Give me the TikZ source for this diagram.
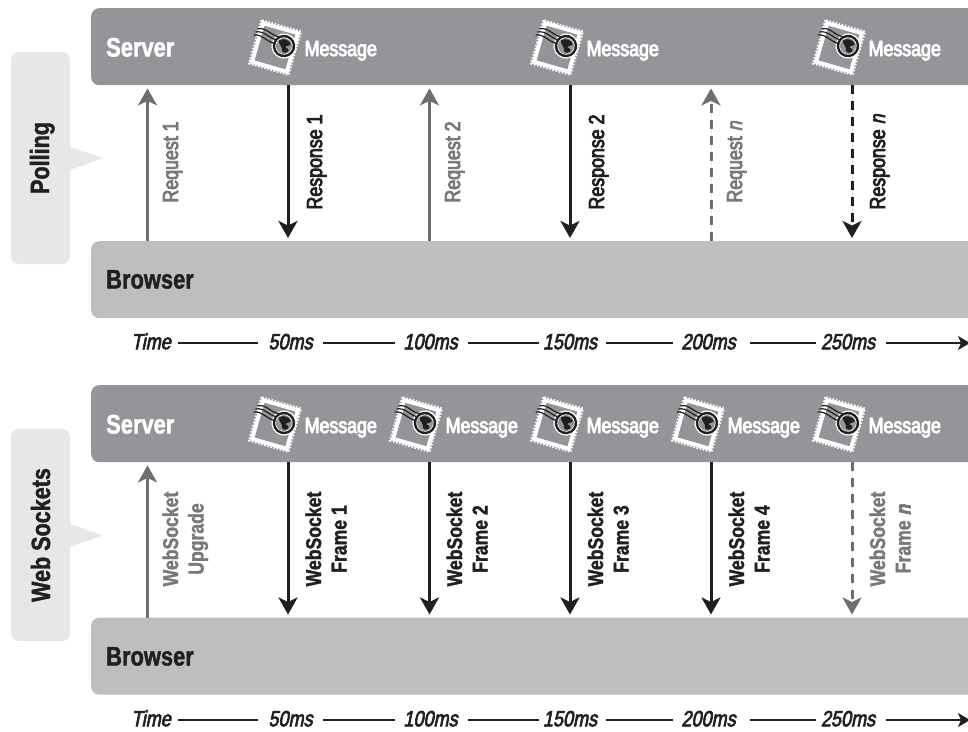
\documentclass[tikz,border=0pt]{standalone}
\usepackage{fontspec}
\setmainfont[FakeStretch=0.82,BoldFeatures={FakeStretch=0.82,FakeBold=1.5}]{Liberation Sans}
\newfontfamily\medfont[FakeStretch=0.82,FakeBold=4]{Liberation Sans}
\newfontfamily\medit[FakeStretch=0.82,FakeBold=3,FakeSlant=0.2]{Liberation Sans}
\usetikzlibrary{arrows.meta}
\definecolor{srv}{HTML}{939598}
\definecolor{brw}{HTML}{BCBEC0}
\definecolor{cal}{HTML}{E6E7E8}
\definecolor{arrgray}{HTML}{6D6E71}
\definecolor{txtgray}{HTML}{77787B}
\definecolor{ink}{HTML}{231F20}
\tikzset{
  x=1pt,y=-1pt,
  bar/.style={anchor=north west,minimum width=905pt,minimum height=77pt,rounded corners=8pt,inner sep=0pt},
  barlabel/.style={anchor=base west,inner sep=0pt,font=\fontsize{26.7}{30}\selectfont\bfseries},
  msgtext/.style={anchor=base west,inner sep=0pt,text=white,font=\fontsize{21.7}{25}\selectfont\medfont},
  sidebox/.style={fill=cal,minimum width=59pt,minimum height=212pt,rounded corners=8pt,inner sep=0pt},
  sidelabel/.style={rotate=90,anchor=base,inner sep=0pt,text=ink,font=\fontsize{26.3}{30}\selectfont\bfseries},
  linklabel/.style={rotate=90,anchor=base,inner sep=0pt,font=\fontsize{21.7}{25}\selectfont\medfont},
  framelabel/.style={rotate=90,anchor=center,inner sep=0pt,align=center,font=\fontsize{21.5}{25.5}\selectfont\bfseries},
  timelabel/.style={inner sep=0pt,text=ink,text height=12.5pt,text depth=0pt,font=\fontsize{22}{25}\selectfont\medit},
  timeline/.style={draw=ink,line width=1.5pt},
  linkbase/.style={line width=3pt,-{Stealth[length=17pt,width=19pt,inset=4.5pt]},shorten >=3pt},
  up/.style={linkbase,draw=arrgray,fill=arrgray},
  down/.style={linkbase,draw=ink,fill=ink},
  downgray/.style={linkbase,draw=arrgray,fill=arrgray},
  dashedlink/.style={line width=3pt,dash pattern=on 9pt off 7pt},
  stamp/.pic={
    \fill[white] (-20,-22) rectangle (20,22);
    \draw[white,line width=2.2pt,dash pattern=on 1.6pt off 1.6pt] (-20.5,-22.5) rectangle (20.5,22.5);
    \fill[srv] (-16,-18) rectangle (16,18);
    \fill[white] (8.2,-3.9) circle (12.6);
    \draw[ink,line width=1.2pt] (-22,-13) .. controls (-14,-18) and (-6,-9) .. (2,-12);
    \draw[ink,line width=1.2pt] (-23,-9.5) .. controls (-15,-14) and (-7,-6) .. (1,-8);
    \draw[ink,line width=1.2pt] (-24,-6) .. controls (-16,-10) and (-8,-2) .. (0,-4);
    \fill[ink] (8.2,-3.9) circle (11.2);
    \fill[white] (8.2,-3.9) circle (8.7);
    \fill[srv] (8.2,-3.9) circle (8);
    \fill[ink] (2,-8) .. controls (6,-12) and (11,-11) .. (14,-8) .. controls (15,-5) and (10,-6) .. (10,-3)
       .. controls (13,-3) and (15,-1) .. (13,1) .. controls (10,4) and (7,2) .. (7,-1)
       .. controls (6,-4) and (2,-4) .. (2,-8) -- cycle;
  }
}
\newcommand{\stampmsg}[3]{%
  \pic[rotate=-16] at (#2-13,#3-0.5) {stamp};
  \node[msgtext] (#1) at (#2+16.5,#3+8) {Message};
}
\newcommand{\timerow}[2]{%
  \node[timelabel] (#1t) at (151,#2) {Time};
  \node[timelabel] (#1a) at (290.5,#2) {50ms};
  \node[timelabel] (#1b) at (430.5,#2) {100ms};
  \node[timelabel] (#1c) at (570,#2) {150ms};
  \node[timelabel] (#1d) at (708.5,#2) {200ms};
  \node[timelabel] (#1e) at (848,#2) {250ms};
  \coordinate (#1end) at (970,#2);
  \draw[timeline,shorten <=7pt,shorten >=10pt] (#1t) -- (#1a);
  \draw[timeline,shorten <=10pt,shorten >=8pt] (#1a) -- (#1b);
  \draw[timeline,shorten <=10pt,shorten >=4pt] (#1b) -- (#1c);
  \draw[timeline,shorten <=9pt,shorten >=8pt] (#1c) -- (#1d);
  \draw[timeline,shorten <=14pt,shorten >=5pt] (#1d) -- (#1e);
  \draw[timeline,shorten <=11pt,-{Stealth[length=12pt,width=14pt,inset=3pt]},fill=ink] (#1e) -- (#1end);
}
\newcommand{\linelbl}[1]{\rule[-5pt]{0pt}{5pt}#1}
\begin{document}
\begin{tikzpicture}
\useasboundingbox (0,0) rectangle (968,731);
% x positions of the links
\coordinate (xa) at (147.5,0);
\coordinate (xb) at (288,0);
\coordinate (xc) at (429.5,0);
\coordinate (xd) at (570,0);
\coordinate (xe) at (711,0);
\coordinate (xf) at (852,0);

% ---------- Polling ----------
\node[bar,fill=srv] (s1) at (91,8) {};
\node[bar,fill=brw] (b1) at (91,241) {};
\node[barlabel,text=white] (s1l) at (106,56.5) {Server};
\node[barlabel,text=ink] (b1l) at (106,288.5) {Browser};
\node[sidebox] (p) at (40.5,158) {};
\fill[cal] (p.east |- 0,147) -- (103,158) -- (p.east |- 0,170) -- cycle;
\node[sidelabel] (pl) at (49,158) {Polling};

\stampmsg{m1}{288}{48}
\stampmsg{m2}{570}{48}
\stampmsg{m3}{852}{48}

\draw[up] (b1.north -| xa) -- (s1.south -| xa);
\draw[down] (s1.south -| xb) -- (b1.north -| xb);
\draw[up] (b1.north -| xc) -- (s1.south -| xc);
\draw[down] (s1.south -| xd) -- (b1.north -| xd);
\draw[up,dashedlink] (b1.north -| xe) -- (s1.south -| xe);
\draw[down,dashedlink] (s1.south -| xf) -- (b1.north -| xf);

\node[linklabel,text=txtgray] (l1) at (178,162) {Request 1};
\node[linklabel,text=ink] (l2) at (322,162) {Response 1};
\node[linklabel,text=txtgray] (l3) at (460,162) {Request 2};
\node[linklabel,text=ink] (l4) at (604,162) {Response 2};
\node[linklabel,text=txtgray] (l5) at (742,162) {Request {\medit n}};
\node[linklabel,text=ink] (l6) at (885,162) {Response {\medit n}};

\timerow{ta}{343}

% ---------- Web Sockets ----------
\node[bar,fill=srv] (s2) at (91,385) {};
\node[bar,fill=brw] (b2) at (91,617.5) {};
\node[barlabel,text=white] (s2l) at (106,433.5) {Server};
\node[barlabel,text=ink] (b2l) at (106,665.5) {Browser};
\node[sidebox] (w) at (40.5,535) {};
\fill[cal] (w.east |- 0,524) -- (103,535.5) -- (w.east |- 0,547) -- cycle;
\node[sidelabel] (wl) at (50,535) {Web Sockets};

\stampmsg{n1}{288}{425}
\stampmsg{n2}{429}{425}
\stampmsg{n3}{570}{425}
\stampmsg{n4}{711}{425}
\stampmsg{n5}{852}{425}

\draw[up] (b2.north -| xa) -- (s2.south -| xa);
\draw[down] (s2.south -| xb) -- (b2.north -| xb);
\draw[down] (s2.south -| xc) -- (b2.north -| xc);
\draw[down] (s2.south -| xd) -- (b2.north -| xd);
\draw[down] (s2.south -| xe) -- (b2.north -| xe);
\draw[downgray,dashedlink] (s2.south -| xf) -- (b2.north -| xf);

\node[framelabel,text=txtgray] (f0) at (185.5,539) {\rule{0pt}{15.5pt}WebSocket\\\linelbl{Upgrade}};
\node[framelabel,text=ink] (f1) at (328.5,539) {\rule{0pt}{15.5pt}WebSocket\\\linelbl{Frame 1}};
\node[framelabel,text=ink] (f2) at (469.5,539) {\rule{0pt}{15.5pt}WebSocket\\\linelbl{Frame 2}};
\node[framelabel,text=ink] (f3) at (610.5,539) {\rule{0pt}{15.5pt}WebSocket\\\linelbl{Frame 3}};
\node[framelabel,text=ink] (f4) at (751.5,539) {\rule{0pt}{15.5pt}WebSocket\\\linelbl{Frame 4}};
\node[framelabel,text=txtgray] (f5) at (892.5,539) {\rule{0pt}{15.5pt}WebSocket\\\linelbl{Frame {\medit n}}};

\timerow{tb}{720}
\end{tikzpicture}
\end{document}
